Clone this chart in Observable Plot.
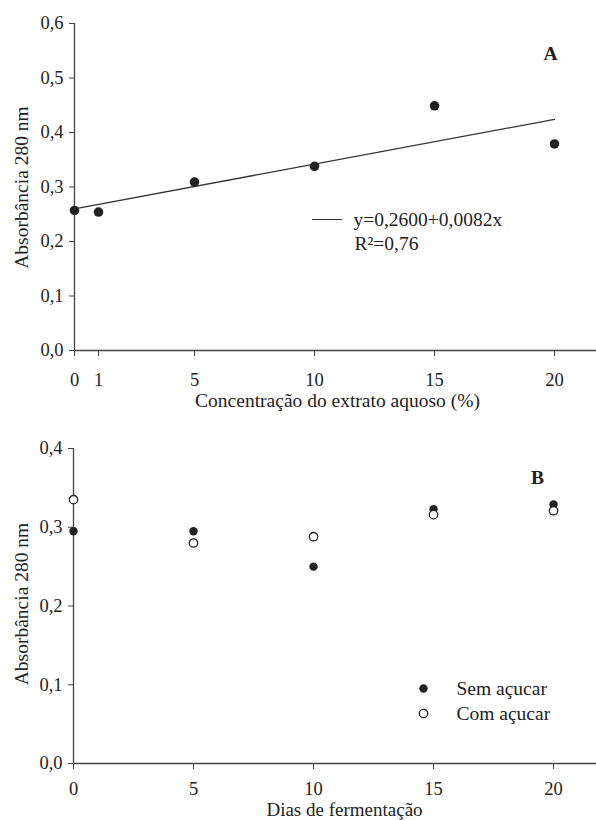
<!DOCTYPE html>
<html>
<head>
<meta charset="utf-8">
<script src="https://cdn.jsdelivr.net/npm/d3@7"></script>
<script src="https://cdn.jsdelivr.net/npm/@observablehq/plot@0.6"></script>
<style>
  body { margin: 0; background: #fff; }
  #wrap { position: relative; width: 596px; height: 820px; }
  #wrap svg { display: block; }
  #wrap svg, #wrap svg text { font-family: "Liberation Serif", "Times New Roman", serif !important; }
  #legline { position: absolute; left: 312px; top: 219px; width: 30px; height: 0; border-top: 1.2px solid #333; }
</style>
</head>
<body>
<div id="wrap"></div>
<script>
// Panel A data
const concX = [0, 1, 5, 10, 15, 20];
const absA = [0.257, 0.254, 0.309, 0.338, 0.449, 0.379];
const fitX = [0, 20];
const fitIntercept = 0.26, fitSlope = 0.0082;
const ticksXA = [0, 1, 5, 10, 15, 20];
const ticksYA = [0, 0.1, 0.2, 0.3, 0.4, 0.5, 0.6];

// Panel B data
const dias = [0, 5, 10, 15, 20];
const semAcucar = [0.295, 0.295, 0.250, 0.323, 0.329];
const comAcucar = [0.335, 0.280, 0.288, 0.316, 0.321];
const ticksXB = [0, 5, 10, 15, 20];
const ticksYB = [0, 0.1, 0.2, 0.3, 0.4];

const fmt = d => d.toFixed(1).replace(".", ",");
const font = "Liberation Serif";
const ink = "#222";
const axisCol = "#444";
const fs = 19.5;
const tfs = 18.5;

const dataA = concX.map((x, i) => ({x, y: absA[i]}));
const fitData = fitX.map(x => ({x, y: fitIntercept + fitSlope * x}));

const txt = (s, o) => Plot.text([s], {fontSize: fs, fill: "#222", lineAnchor: "middle", ...o});

const plotA = Plot.plot({
  width: 596, height: 415,
  marginLeft: 74, marginRight: 0, marginTop: 23, marginBottom: 65,
  style: {fontFamily: font, fontSize: "19px", color: "#222", background: "white"},
  x: {domain: [0, 21.75]},
  y: {domain: [0, 0.6]},
  marks: [
    Plot.axisY({ticks: ticksYA, tickFormat: fmt, tickSize: 5, tickPadding: 6, label: null, stroke: axisCol, fontSize: tfs}),
    Plot.axisX({ticks: ticksXA, tickFormat: d => String(d), tickSize: 6, tickPadding: 16, label: null, stroke: axisCol, fontSize: tfs}),
    Plot.ruleX([0], {stroke: axisCol, strokeWidth: 1.3}),
    Plot.ruleY([0], {stroke: axisCol, strokeWidth: 1.3}),
    Plot.line(fitData, {x: "x", y: "y", stroke: "#333", strokeWidth: 1.3}),
    Plot.dot(dataA, {x: "x", y: "y", r: 4.8, fill: ink, stroke: "none"}),
    txt("Concentração do extrato aquoso (%)", {frameAnchor: "bottom", textAnchor: "middle", dx: 2, dy: 50}),
    txt("Absorbância 280 nm", {frameAnchor: "left", textAnchor: "middle", rotate: -90, dx: -53, dy: 0.5}),
    txt("A", {frameAnchor: "top-left", textAnchor: "middle", dx: 476, dy: 30, fontWeight: "bold"}),
    txt("y=0,2600+0,0082x", {frameAnchor: "top-left", textAnchor: "start", dx: 279, dy: 196}),
    txt("R²=0,76", {frameAnchor: "top-left", textAnchor: "start", dx: 280, dy: 220})
  ]
});

const dataSem = dias.map((x, i) => ({x, y: semAcucar[i]}));
const dataCom = dias.map((x, i) => ({x, y: comAcucar[i]}));

const plotB = Plot.plot({
  width: 596, height: 405,
  marginLeft: 73, marginRight: 0, marginTop: 33, marginBottom: 57,
  style: {fontFamily: font, fontSize: "19px", color: "#222", background: "white"},
  x: {domain: [0, 21.79]},
  y: {domain: [0, 0.4]},
  marks: [
    Plot.axisY({ticks: ticksYB, tickFormat: fmt, tickSize: 5, tickPadding: 6, label: null, stroke: axisCol, fontSize: tfs}),
    Plot.axisX({ticks: ticksXB, tickFormat: d => String(d), tickSize: 6, tickPadding: 12, label: null, stroke: axisCol, fontSize: tfs}),
    Plot.ruleX([0], {stroke: axisCol, strokeWidth: 1.3}),
    Plot.ruleY([0], {stroke: axisCol, strokeWidth: 1.3}),
    Plot.dot(dataSem, {x: "x", y: "y", r: 4.2, fill: ink, stroke: "none"}),
    Plot.dot(dataCom, {x: "x", y: "y", r: 4.2, fill: "white", stroke: ink, strokeWidth: 1.3}),
    txt("Dias de fermentação", {frameAnchor: "bottom", textAnchor: "middle", dx: 9.5, dy: 46, fontSize: 19}),
    txt("Absorbância 280 nm", {frameAnchor: "left", textAnchor: "middle", rotate: -90, dx: -52, dy: -2}),
    txt("B", {frameAnchor: "top-left", textAnchor: "middle", dx: 464, dy: 29, fontWeight: "bold"}),
    Plot.dot(["Sem açucar"], {frameAnchor: "top-left", dx: 350, dy: 240, r: 4.2, fill: ink, stroke: "none"}),
    Plot.dot(["Com açucar"], {frameAnchor: "top-left", dx: 350, dy: 265, r: 4.2, fill: "white", stroke: ink, strokeWidth: 1.3}),
    txt("Sem açucar", {frameAnchor: "top-left", textAnchor: "start", dx: 383, dy: 240}),
    txt("Com açucar", {frameAnchor: "top-left", textAnchor: "start", dx: 383, dy: 265})
  ]
});

const wrap = document.getElementById("wrap");
wrap.appendChild(plotA);
wrap.appendChild(plotB);
const leg = document.createElement("div");
leg.id = "legline";
wrap.appendChild(leg);
</script>
</body>
</html>
